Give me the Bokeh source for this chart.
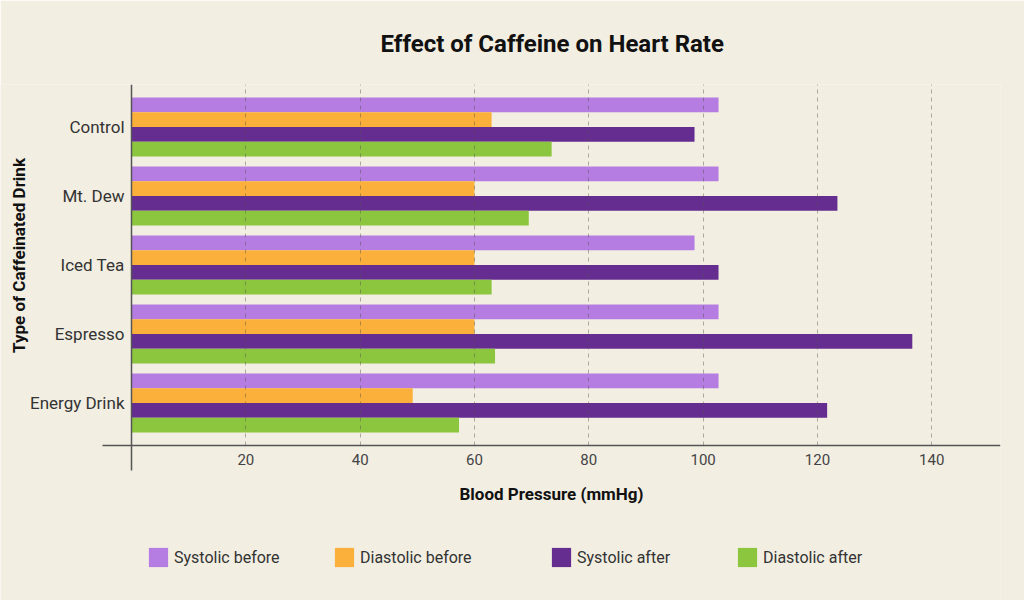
import math
from bokeh.plotting import figure
from bokeh.models import (Range1d, LinearAxis, FixedTicker, Grid, Legend, LegendItem,
                          Title, Label, ColumnDataSource)
from bokeh.embed import file_html
from bokeh.resources import INLINE

drinks = ["Control", "Mt. Dew", "Iced Tea", "Espresso", "Energy Drink"]
systolic_before = [102.7, 102.7, 98.5, 102.7, 102.7]
diastolic_before = [63.0, 60.0, 60.0, 60.0, 49.2]
systolic_after = [98.5, 123.5, 102.7, 136.6, 121.7]
diastolic_after = [73.5, 69.5, 63.0, 63.6, 57.3]
series_names = ["Systolic before", "Diastolic before", "Systolic after", "Diastolic after"]
x_ticks = [20, 40, 60, 80, 100, 120, 140]

colors = ["#B57CE2", "#FBB03B", "#662D91", "#8CC63F"]
BG = "#F2EEE2"
FONT = "Roboto"
AXIS_COLOR = "#555555"

n = len(drinks)
ypos = [n - 1 - i + 0.5 for i in range(n)]
offsets = [0.32, 0.107, -0.107, -0.32]
bar_h = 0.214
series = [systolic_before, diastolic_before, systolic_after, diastolic_after]

Y_TOP = 5.116
Y_AXIS = -0.116
Y_LINE_END = -0.478
X_LINE_START = -5.07
X_END = 152.03

p = figure(width=1024, height=600,
           x_range=Range1d(-22.92, X_END), y_range=Range1d(-2.362, Y_TOP),
           x_axis_type=None, y_axis_type=None,
           output_backend="svg", toolbar_location=None,
           min_border=0, min_border_left=0, min_border_right=24,
           min_border_top=84, min_border_bottom=0,
           background_fill_color=BG, border_fill_color=BG, outline_line_color=None)
p.title = None

title = Title(text="Effect of Caffeine on Heart Rate", align="left", offset=380,
              standoff=54, text_font=FONT, text_font_size="24px",
              text_font_style="bold", text_color="#111111")
p.add_layout(title, "above")

renderers = []
for vals, off, col, name in zip(series, offsets, colors, series_names):
    src = ColumnDataSource(dict(y=[y + off for y in ypos], right=vals))
    r = p.hbar(y="y", left=0, right="right", height=bar_h, source=src,
               fill_color=col, line_color=None)
    renderers.append(r)

# dashed grid drawn over the bars, stopping at the x axis
grid = Grid(dimension=0, ticker=FixedTicker(ticks=x_ticks), cross_bounds=(Y_AXIS, Y_TOP),
            level="annotation")
grid.grid_line_color = "#55514a"
grid.grid_line_alpha = 0.45
grid.grid_line_dash = "4 4"
grid.grid_line_width = 1
p.add_layout(grid)

xaxis = LinearAxis(ticker=FixedTicker(ticks=x_ticks), fixed_location=Y_AXIS,
                   bounds=(X_LINE_START, X_END))
xaxis.axis_line_color = AXIS_COLOR
xaxis.axis_line_width = 1.5
xaxis.major_tick_line_color = None
xaxis.minor_tick_line_color = None
xaxis.major_tick_out = 0
xaxis.major_tick_in = 0
xaxis.major_label_standoff = 8
xaxis.major_label_text_font = FONT
xaxis.major_label_text_font_size = "15px"
xaxis.major_label_text_color = "#444444"
xaxis.axis_label = "Blood Pressure (mmHg)"
xaxis.axis_label_text_font = FONT
xaxis.axis_label_text_font_size = "17px"
xaxis.axis_label_text_font_style = "bold"
xaxis.axis_label_text_color = "#111111"
xaxis.axis_label_standoff = 16
p.add_layout(xaxis, "below")

yaxis = LinearAxis(ticker=FixedTicker(ticks=ypos), fixed_location=0,
                   bounds=(Y_LINE_END, Y_TOP))
yaxis.major_label_overrides = {y: d for y, d in zip(ypos, drinks)}
yaxis.axis_line_color = AXIS_COLOR
yaxis.axis_line_width = 1.5
yaxis.major_tick_line_color = None
yaxis.minor_tick_line_color = None
yaxis.major_tick_out = 0
yaxis.major_tick_in = 0
yaxis.major_label_standoff = 7
yaxis.major_label_text_font = FONT
yaxis.major_label_text_font_size = "17px"
yaxis.major_label_text_color = "#333333"
p.add_layout(yaxis, "left")

ylab = Label(x=18, y=345, x_units="screen", y_units="screen",
             text="Type of Caffeinated Drink", angle=math.pi / 2,
             text_align="center", text_baseline="middle",
             text_font=FONT, text_font_size="17px", text_font_style="bold",
             text_color="#111111")
p.add_layout(ylab)

legend_x = [146, 332, 549, 735]
for r, name, lx in zip(renderers, series_names, legend_x):
    lg = Legend(items=[LegendItem(label=name, renderers=[r])], location=(lx, 31),
                orientation="horizontal", glyph_width=24, glyph_height=24,
                padding=0, margin=0, spacing=0, label_standoff=4,
                border_line_color=None, background_fill_alpha=0,
                label_text_font=FONT, label_text_font_size="16px",
                label_text_color="#333333")
    p.add_layout(lg)

open("out.html", "w").write(file_html(p, INLINE))
